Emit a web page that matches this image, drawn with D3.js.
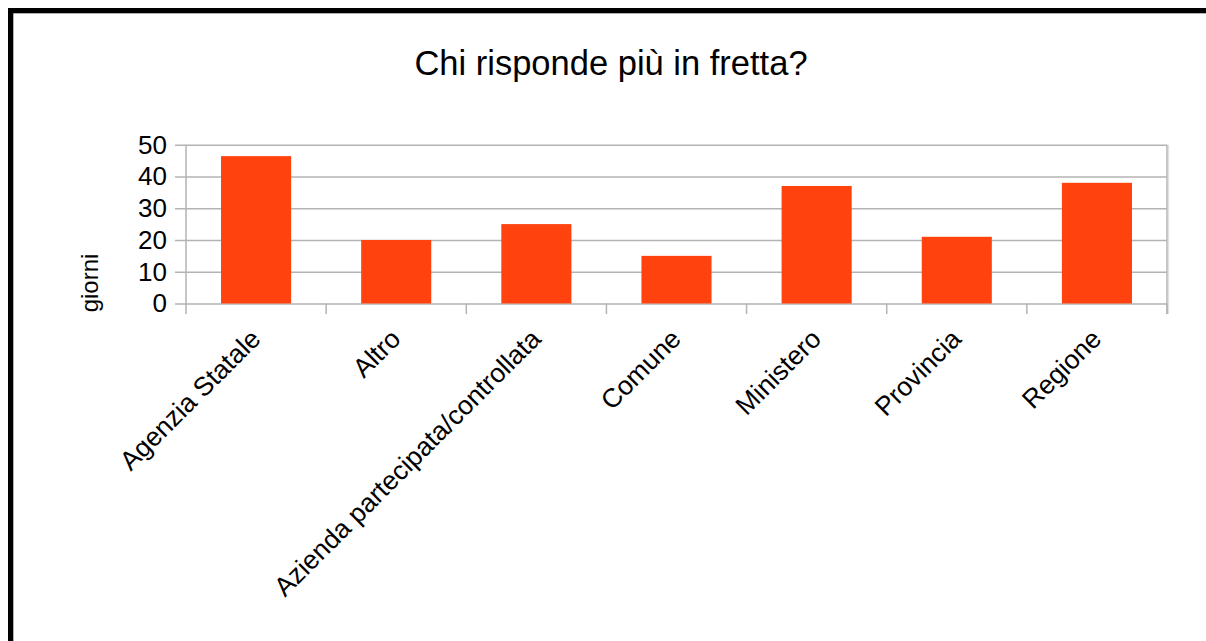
<!DOCTYPE html>
<html>
<head>
<meta charset="utf-8">
<script src="https://cdn.jsdelivr.net/npm/d3@7"></script>
<style>
  html, body { margin: 0; padding: 0; background: #fff; }
  svg { display: block; font-family: "Liberation Sans", Arial, sans-serif; }
</style>
</head>
<body>
<svg id="chart" width="1206" height="641"></svg>
<script>
// Average response time (days) by type of public body
const categories = ["Agenzia Statale", "Altro", "Azienda partecipata/controllata", "Comune", "Ministero", "Provincia", "Regione"];
const giorni = [46.4, 20, 25, 15, 37, 21, 38];
const yTicks = [0, 10, 20, 30, 40, 50];

const chartTitle = "Chi risponde più in fretta?";
const yTitle = "giorni";

const svg = d3.select("#chart");
const W = 1206, H = 641;

// page frame
svg.append("rect").attr("x", 0).attr("y", 0).attr("width", W).attr("height", H).attr("fill", "#fff");
svg.append("rect").attr("x", 8).attr("y", 8).attr("width", W - 8).attr("height", 5.3).attr("fill", "#000");
svg.append("rect").attr("x", 8).attr("y", 8).attr("width", 5.3).attr("height", H - 8).attr("fill", "#000");

const plot = { left: 186, right: 1167, top: 144.7, bottom: 303.5 };

const x = d3.scaleBand()
  .domain(categories)
  .range([plot.left, plot.right])
  .paddingInner(0.5)
  .paddingOuter(0.25);

const y = d3.scaleLinear()
  .domain([0, 50])
  .range([plot.bottom, plot.top]);

const grid = "#b3b3b3";

// horizontal grid lines + y axis ticks
const yAxis = d3.axisLeft(y)
  .tickValues(yTicks)
  .tickSize(plot.right - plot.left + 11)
  .tickPadding(8)
  .tickFormat(d3.format("d"));

const yG = svg.append("g")
  .attr("transform", `translate(${plot.right},0)`)
  .call(yAxis);
yG.select(".domain").remove();
yG.selectAll(".tick line").attr("stroke", grid).attr("stroke-width", 1.5);
yG.selectAll(".tick text")
  .attr("fill", "#000")
  .attr("font-size", 26)
  .attr("font-family", "Liberation Sans, Arial, sans-serif");

// plot outline (left & right edges)
svg.append("line").attr("x1", plot.left).attr("x2", plot.left)
  .attr("y1", plot.top).attr("y2", plot.bottom).attr("stroke", grid).attr("stroke-width", 1.5);
svg.append("line").attr("x1", plot.right).attr("x2", plot.right)
  .attr("y1", plot.top).attr("y2", plot.bottom + 10.5).attr("stroke", grid).attr("stroke-width", 1.5);
svg.append("line").attr("x1", plot.right + 1.5).attr("x2", plot.right + 1.5)
  .attr("y1", plot.top).attr("y2", plot.bottom + 10.5).attr("stroke", "#e0e0e0").attr("stroke-width", 1.2);

// category separators below the baseline
const step = x.step();
const seps = d3.range(categories.length + 1).map(i => plot.left + i * step);
svg.append("g").selectAll("line").data(seps).join("line")
  .attr("x1", d => d).attr("x2", d => d)
  .attr("y1", plot.bottom).attr("y2", plot.bottom + 10.5)
  .attr("stroke", grid).attr("stroke-width", 1.5);

// bars
svg.append("g").selectAll("rect").data(categories).join("rect")
  .attr("x", d => x(d))
  .attr("width", x.bandwidth())
  .attr("y", (d, i) => y(giorni[i]))
  .attr("height", (d, i) => y(0) - y(giorni[i]))
  .attr("fill", "#ff420e");

// rotated category labels
svg.append("g").selectAll("text").data(categories).join("text")
  .attr("transform", d => `translate(${x(d) + x.bandwidth() / 2 + 6},${plot.bottom + 37}) rotate(-45)`)
  .attr("text-anchor", "end")
  .attr("font-size", 26.5)
  .attr("fill", "#000")
  .text(d => d);

// title
svg.append("text")
  .attr("x", 611).attr("y", 75)
  .attr("text-anchor", "middle")
  .attr("font-size", 34.5)
  .attr("fill", "#000")
  .text(chartTitle);

// y axis title
svg.append("text")
  .attr("transform", "translate(98,283) rotate(-90)")
  .attr("text-anchor", "middle")
  .attr("font-size", 24)
  .attr("fill", "#000")
  .text(yTitle);
</script>
</body>
</html>
